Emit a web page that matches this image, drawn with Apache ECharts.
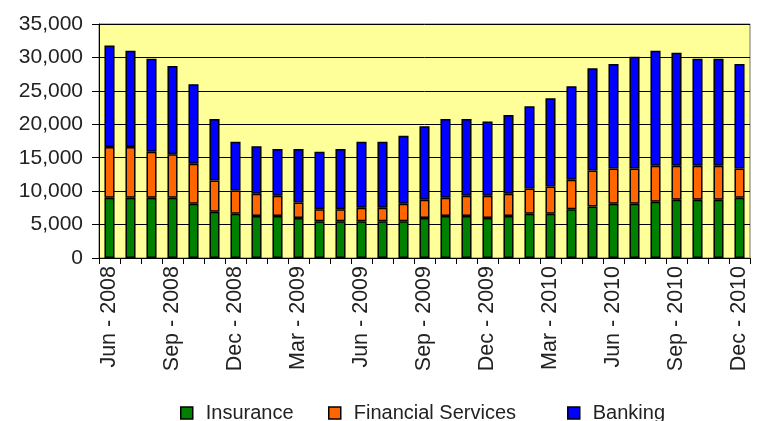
<!DOCTYPE html>
<html>
<head>
<meta charset="utf-8">
<script src="https://cdn.jsdelivr.net/npm/echarts@6/dist/echarts.min.js"></script>
<style>
  html, body { margin: 0; padding: 0; background: #fff; }
  #chart { width: 762px; height: 421px; }
</style>
</head>
<body>
<div id="chart"></div>
<script>
// months Jun 2008 .. Dec 2010
var months = [
    'Jun - 2008', 'Jul - 2008', 'Aug - 2008', 'Sep - 2008', 'Oct - 2008', 'Nov - 2008', 'Dec - 2008',
    'Jan - 2009', 'Feb - 2009', 'Mar - 2009', 'Apr - 2009', 'May - 2009', 'Jun - 2009', 'Jul - 2009',
    'Aug - 2009', 'Sep - 2009', 'Oct - 2009', 'Nov - 2009', 'Dec - 2009', 'Jan - 2010', 'Feb - 2010',
    'Mar - 2010', 'Apr - 2010', 'May - 2010', 'Jun - 2010', 'Jul - 2010', 'Aug - 2010', 'Sep - 2010',
    'Oct - 2010', 'Nov - 2010', 'Dec - 2010'
];
var insurance = [9000, 9000, 9000, 9000, 8100, 6900, 6600, 6300, 6300, 6000, 5500, 5500, 5500, 5500,
    5500, 6000, 6300, 6300, 6000, 6300, 6600, 6600, 7300, 7700, 8100, 8100, 8400, 8700, 8700, 8700, 9000];
var financialServices = [7600, 7600, 6900, 6500, 6000, 4700, 3500, 3300, 3000, 2300, 1800, 1800, 2000, 2000,
    2600, 2700, 2700, 3000, 3300, 3300, 3800, 4100, 4400, 5400, 5300, 5300, 5400, 5100, 5100, 5100, 4400];
var banking = [15200, 14400, 13900, 13200, 11900, 9200, 7300, 7100, 7000, 8000, 8600, 9000, 9900, 9900,
    10200, 11000, 11800, 11500, 11100, 11800, 12300, 13200, 14000, 15300, 15600, 16700, 17200, 16900, 16000, 16000, 15600];

var seriesNames = ['Insurance', 'Financial Services', 'Banking'];
var seriesColors = ['#008000', '#FF6600', '#0000FF'];
var seriesData = [insurance, financialServices, banking];

var font = 'Liberation Sans, Arial, sans-serif';
var myChart = echarts.init(document.getElementById('chart'));

var series = seriesNames.map(function(name, i) {
    return {
        name: name,
        type: 'bar',
        stack: 'total',
        barWidth: '48%',
        data: seriesData[i],
        itemStyle: {
            color: seriesColors[i],
            borderColor: '#000',
            borderWidth: 1.5
        }
    };
});

// legend items placed one by one, gaps are uneven in the original
var legendLeft = [175, 323, 562];
var legends = seriesNames.map(function(name, i) {
    return {
        data: [name],
        left: legendLeft[i],
        top: 398,
        itemWidth: 12,
        itemHeight: 12,
        itemGap: 0,
        icon: 'rect',
        textStyle: { fontFamily: font, fontSize: 20, color: '#222', padding: [0, 0, 0, 8] },
        itemStyle: { borderColor: '#000', borderWidth: 1.5 }
    };
});

var option = {
    animation: false,
    backgroundColor: '#fff',
    legend: legends,
    grid: {
        left: 99,
        right: 12,
        top: 24,
        bottom: 163,
        show: true,
        backgroundColor: '#FFFF99',
        borderColor: '#707070',
        borderWidth: 1
    },
    xAxis: {
        type: 'category',
        data: months,
        axisLine: { lineStyle: { color: '#000', width: 1 } },
        axisTick: { show: true, interval: 0, length: 6, lineStyle: { color: '#000' } },
        axisLabel: {
            interval: 2,
            rotate: 90,
            margin: 8,
            fontFamily: font,
            fontSize: 21.5,
            color: '#222'
        }
    },
    yAxis: {
        type: 'value',
        min: 0,
        max: 35000,
        interval: 5000,
        axisLine: { show: true, lineStyle: { color: '#000', width: 1 } },
        axisTick: { show: true, length: 7, lineStyle: { color: '#000' } },
        splitLine: { lineStyle: { color: '#000', width: 1 } },
        axisLabel: {
            margin: 16,
            fontFamily: font,
            fontSize: 21,
            color: '#222',
            formatter: function(v) { return v.toLocaleString('en-US'); }
        }
    },
    series: series
};
myChart.setOption(option);
</script>
</body>
</html>
